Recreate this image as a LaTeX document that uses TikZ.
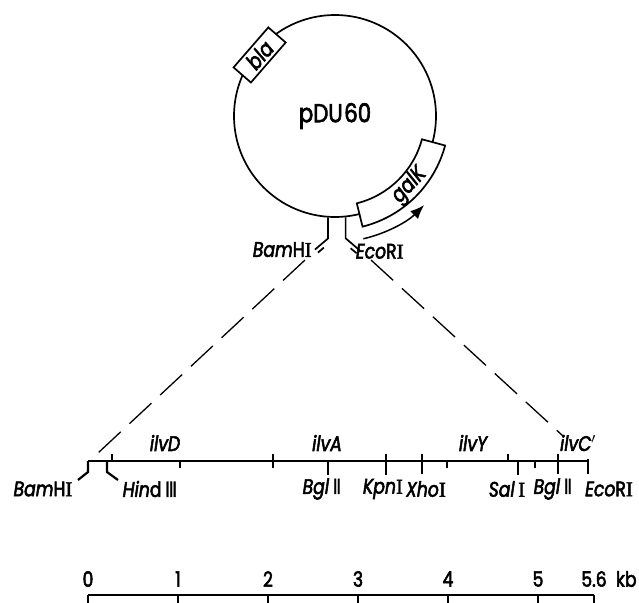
\documentclass[tikz,border=0pt]{standalone}
\usepackage{fontspec}
\setmainfont{Poppins}[FakeStretch=0.82, FakeBold=2.5]
\newfontfamily\romfont{DejaVu Sans}[FakeStretch=0.85, FakeBold=1]
\newfontfamily\serfont{Liberation Serif}[FakeBold=2]
\usetikzlibrary{arrows.meta,positioning,calc}
\newcommand{\rI}{{\serfont I}}
\newcommand{\rII}{{\romfont Ⅱ}}
\newcommand{\rIII}{{\romfont Ⅲ}}
\tikzset{
  plasmid/.style={
    draw=black, line width=1.7pt, circle, minimum size=202pt, inner sep=0pt
  },
  genebox/.style={
    draw=black, line width=1.7pt, fill=white, minimum width=53pt,
    minimum height=23pt, inner sep=0pt, font=\itshape\fontsize{22}{22}\selectfont
  },
  site/.style={font=\fontsize{21}{21}\selectfont, inner sep=0pt},
  gene/.style={font=\itshape\fontsize{21}{21}\selectfont, inner sep=0pt},
  scalelabel/.style={font=\fontsize{21}{21}\selectfont, inner sep=0pt},
  maplink/.style={line width=2.2pt},
  cutlink/.style={line width=1.7pt},
  projlink/.style={line width=1.3pt, dash pattern=on 30pt off 12pt},
  orflink/.style={-{Latex[length=14pt,width=11pt]}, line width=1.5pt}
}

\begin{document}
\begin{tikzpicture}[x=1pt, y=1pt]
\useasboundingbox (0,0) rectangle (639,-602);

% plasmid
\node[plasmid] (pdu) at (335,-116) {};
\node[font=\fontsize{26}{26}\selectfont] (pdulabel) at (pdu.center) {pDU\kern1.5pt60};
\node[genebox, rotate=49] (bla) at ($(pdu.center)+(141:97)$) {bla};
\draw[cutlink, fill=white] ($(pdu.center)+(-76:90)$) arc[start angle=-76, end angle=-15, radius=90]
  -- ($(pdu.center)+(-15:114)$) arc[start angle=-15, end angle=-76, radius=114] -- cycle;
\node[gene, font=\itshape\fontsize{22}{22}\selectfont, rotate=47] (galk) at ($(pdu.center)+(-43:102)$) {galK};
\draw[orflink] ($(pdu.center)+(-77:126)$) arc[start angle=-77, end angle=-45, radius=126];

% cloning sites
\draw[cutlink] (pdu.266.6) -- ++(0,-21) coordinate (bamkink) -- ++(-13,-11) coordinate (bamend);
\draw[cutlink] ($(bamend)+(3,-3)$) -- ++(6,5);
\draw[cutlink] (pdu.276.2) -- ++(0,-21) coordinate (ecokink) -- ++(14,-12) coordinate (ecoend);
\draw[cutlink] ($(ecoend)+(-3,-3)$) -- ++(-6,5);
\node[site, anchor=east] (bamsite) at ($(bamend)+(-3,0)$) {\textit{Bam}H\rI};
\node[site, anchor=west] (ecosite) at ($(ecoend)+(-4,-1)$) {\textit{Eco}R\rI};

% insert map
\coordinate (mapL) at (88,-461);
\coordinate (mapR) at (588,-461);
\coordinate (hind) at (107,-461);
\draw[maplink] (mapL) -- (mapR);
\draw[maplink] (mapL) -- ++(0,-11) -- ++(-10,-8);
\draw[maplink] (hind) -- ++(0,-11) -- ++(11,-8);
\draw[maplink] (mapR) -- ++(0,2) -- ++(0,-15);
\foreach \x in {112,508} \draw[maplink] (\x,-461) -- ++(0,7);
\foreach \x in {180,447,535} \draw[maplink] (\x,-461) -- ++(0,-7);
\foreach \x in {328,518} \draw[maplink] (\x,-461) -- ++(0,-14);
\foreach \x/\lo in {273/-468,386/-475,422/-474,558/-474} \draw[maplink] (\x,-454) -- (\x,\lo);

\node[site] (mbam) at (43,-489) {\textit{Bam}H\rI};
\node[site] (mhind) at (150,-489) {\textit{Hin}d\,\rIII};
\node[site] (mbgl1) at (322,-489) {\textit{Bgl}\,\rII};
\node[site] (mkpn) at (383,-489) {\textit{Kpn}\rI};
\node[site] (mxho) at (426,-489) {\textit{Xho}\rI};
\node[site] (msal) at (507,-489) {\textit{Sal}\,\rI};
\node[site] (mbgl2) at (553,-489) {\textit{Bgl}\,\rII};
\node[site] (meco) at (609,-489) {\textit{Eco}R\rI};

\node[gene] (ilvd) at (165,-443) {ilvD};
\node[gene] (ilva) at (327,-443) {ilvA};
\node[gene] (ilvy) at (473,-443) {ilvY};
\node[gene] (ilvc) at (578,-443) {ilvC$'$};

% projection of the insert
\coordinate (bamdash) at (305,-260);
\coordinate (ecodash) at (371,-260);
\coordinate (mapdashL) at (98,-453);
\coordinate (mapdashR) at (563,-436);
\draw[projlink] (bamdash) -- (mapdashL);
\draw[projlink] (ecodash) -- (mapdashR);

% scale
\coordinate (sc0) at (88,-595);
\coordinate (scend) at (594,-595);
\draw[maplink] (sc0) -- (scend);
\foreach \k in {0,...,5} {
  \draw[maplink] ($(sc0)+(90*\k,0)$) -- ++(0,-8);
  \node[scalelabel] (sl\k) at ($(sc0)+(90*\k,16)$) {\k};
}
\draw[maplink] (scend) -- ++(0,-8);
\node[scalelabel] (slend) at ($(scend)+(0,16)$) {5.6};
\node[scalelabel, anchor=west] (kb) at ($(slend.east)+(9,0)$) {kb};

\end{tikzpicture}
\end{document}
